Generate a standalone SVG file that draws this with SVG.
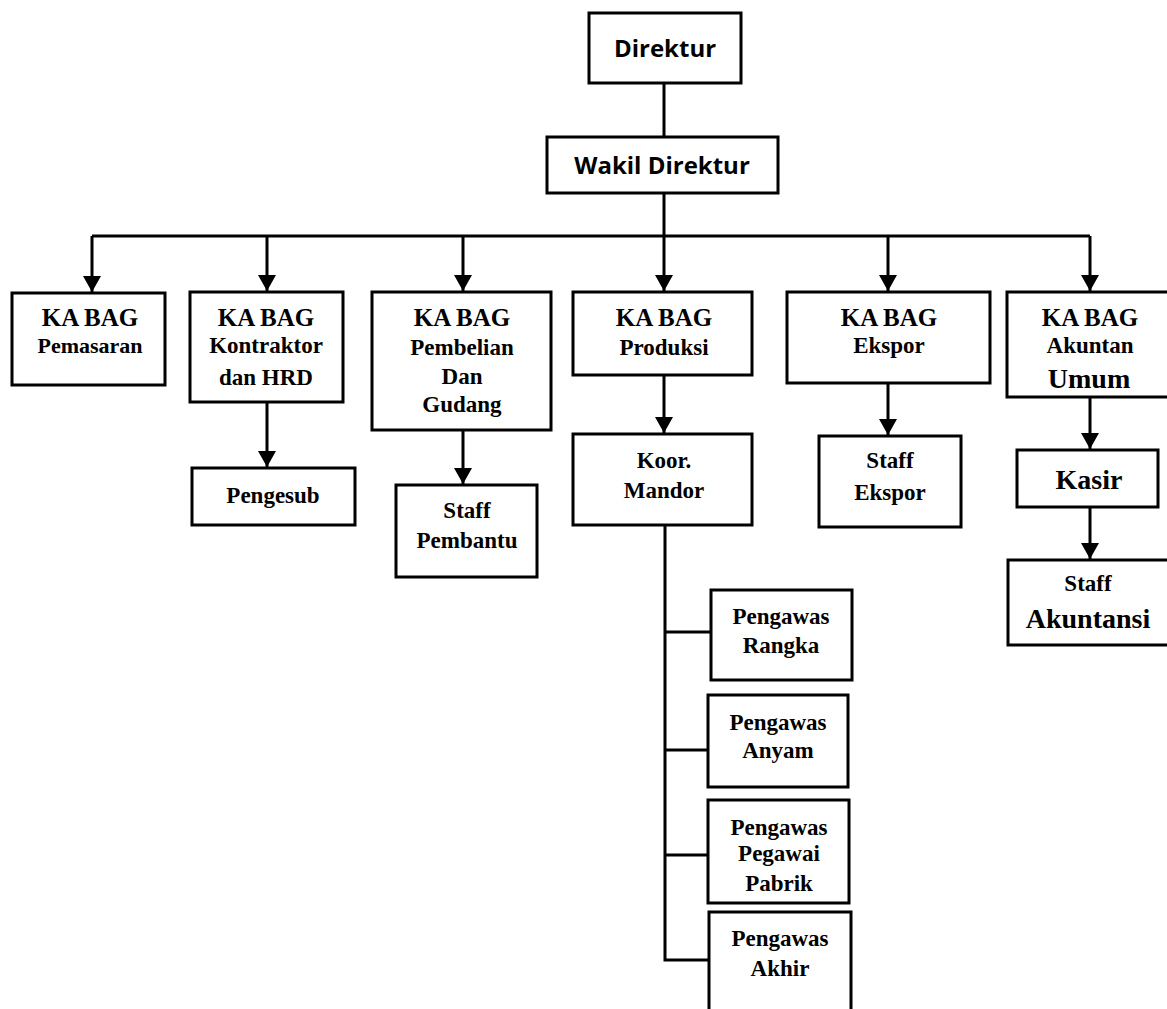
<svg xmlns="http://www.w3.org/2000/svg" width="1167" height="1009" viewBox="0 0 1167 1009">
<style>
.box{fill:#fff;stroke:#000;stroke-width:3}
.ln{fill:none;stroke:#000;stroke-width:3}
.s{font-family:"Open Sans","Noto Sans",sans-serif;font-weight:bold;font-size:24px;text-anchor:middle}
.t{font-family:"Liberation Serif",serif;font-weight:bold;font-size:23px;text-anchor:middle}
.h{font-size:25px}
.b{font-size:28px}
.p{font-size:22px}
</style>
<defs>
<marker id="ad" markerUnits="userSpaceOnUse" markerWidth="18" markerHeight="16" viewBox="0 0 18 16" refX="9" refY="16">
<path d="M0,0 L18,0 L9,16 Z" fill="#000"/>
</marker>
</defs>
<rect width="1167" height="1009" fill="#fff"/>
<g id="connectors">
<line class="ln" x1="664" y1="83" x2="664" y2="137"/>
<line class="ln" x1="664" y1="193" x2="664" y2="236"/>
<line class="ln" x1="92" y1="236" x2="1090" y2="236"/>
<line class="ln" x1="92" y1="236" x2="92" y2="292" marker-end="url(#ad)"/>
<line class="ln" x1="267" y1="236" x2="267" y2="291" marker-end="url(#ad)"/>
<line class="ln" x1="463" y1="236" x2="463" y2="291" marker-end="url(#ad)"/>
<line class="ln" x1="664" y1="236" x2="664" y2="291" marker-end="url(#ad)"/>
<line class="ln" x1="888" y1="236" x2="888" y2="291" marker-end="url(#ad)"/>
<line class="ln" x1="1090" y1="236" x2="1090" y2="291" marker-end="url(#ad)"/>
<line class="ln" x1="267" y1="402" x2="267" y2="467" marker-end="url(#ad)"/>
<line class="ln" x1="463" y1="430" x2="463" y2="484" marker-end="url(#ad)"/>
<line class="ln" x1="664" y1="375" x2="664" y2="433" marker-end="url(#ad)"/>
<line class="ln" x1="888" y1="383" x2="888" y2="435" marker-end="url(#ad)"/>
<line class="ln" x1="1090" y1="397" x2="1090" y2="449" marker-end="url(#ad)"/>
<line class="ln" x1="1090" y1="507" x2="1090" y2="559" marker-end="url(#ad)"/>
<polyline class="ln" points="665,525 665,960 709,960"/>
<line class="ln" x1="665" y1="632" x2="711" y2="632"/>
<line class="ln" x1="665" y1="750" x2="708" y2="750"/>
<line class="ln" x1="665" y1="855" x2="708" y2="855"/>
</g>
<g id="direktur"><rect class="box" x="589" y="13" width="152" height="70"/><text class="s" x="665" y="57">Direktur</text></g>
<g id="wakil"><rect class="box" x="547" y="137" width="231" height="56"/><text class="s" x="662" y="174">Wakil Direktur</text></g>
<g id="pemasaran"><rect class="box" x="12" y="293" width="153" height="92"/><text class="t" x="90" y="326"><tspan class="h">KA BAG</tspan><tspan class="p" x="90" y="353">Pemasaran</tspan></text></g>
<g id="kontraktor"><rect class="box" x="190" y="292" width="153" height="110"/><text class="t" x="266" y="326"><tspan class="h">KA BAG</tspan><tspan x="266" y="353">Kontraktor</tspan><tspan x="266" y="385">dan HRD</tspan></text></g>
<g id="pembelian"><rect class="box" x="372" y="292" width="179" height="138"/><text class="t" x="462" y="326"><tspan class="h">KA BAG</tspan><tspan x="462" y="355">Pembelian</tspan><tspan x="462" y="384">Dan</tspan><tspan x="462" y="412">Gudang</tspan></text></g>
<g id="produksi"><rect class="box" x="573" y="292" width="179" height="83"/><text class="t" x="664" y="326"><tspan class="h">KA BAG</tspan><tspan x="664" y="355">Produksi</tspan></text></g>
<g id="ekspor"><rect class="box" x="787" y="292" width="203" height="91"/><text class="t" x="889" y="326"><tspan class="h">KA BAG</tspan><tspan x="889" y="353">Ekspor</tspan></text></g>
<g id="akuntan"><rect class="box" x="1007" y="292" width="162" height="105"/><text class="t" x="1090" y="326"><tspan class="h">KA BAG</tspan><tspan x="1090" y="353">Akuntan</tspan><tspan class="b" x="1089" y="388">Umum</tspan></text></g>
<g id="pengesub"><rect class="box" x="192" y="468" width="163" height="57"/><text class="t" x="273" y="503">Pengesub</text></g>
<g id="staff-pembantu"><rect class="box" x="396" y="485" width="141" height="92"/><text class="t" x="467" y="518">Staff<tspan x="467" y="548">Pembantu</tspan></text></g>
<g id="koor-mandor"><rect class="box" x="573" y="434" width="179" height="91"/><text class="t" x="664" y="468">Koor.<tspan x="664" y="498">Mandor</tspan></text></g>
<g id="staff-ekspor"><rect class="box" x="819" y="436" width="142" height="91"/><text class="t" x="890" y="468">Staff<tspan x="890" y="500">Ekspor</tspan></text></g>
<g id="kasir"><rect class="box" x="1017" y="450" width="141" height="57"/><text class="t b" x="1089" y="489">Kasir</text></g>
<g id="staff-akuntansi"><rect class="box" x="1008" y="560" width="162" height="85"/><text class="t" x="1088" y="591">Staff<tspan class="b" x="1088" y="628">Akuntansi</tspan></text></g>
<g id="pengawas-rangka"><rect class="box" x="711" y="590" width="141" height="90"/><text class="t" x="781" y="624">Pengawas<tspan x="781" y="653">Rangka</tspan></text></g>
<g id="pengawas-anyam"><rect class="box" x="708" y="695" width="140" height="92"/><text class="t" x="778" y="730">Pengawas<tspan x="778" y="758">Anyam</tspan></text></g>
<g id="pengawas-pabrik"><rect class="box" x="708" y="800" width="141" height="103"/><text class="t" x="779" y="835">Pengawas<tspan x="779" y="861">Pegawai</tspan><tspan x="779" y="891">Pabrik</tspan></text></g>
<g id="pengawas-akhir"><rect class="box" x="709" y="912" width="142" height="110"/><text class="t" x="780" y="946">Pengawas<tspan x="780" y="976">Akhir</tspan></text></g>
</svg>
